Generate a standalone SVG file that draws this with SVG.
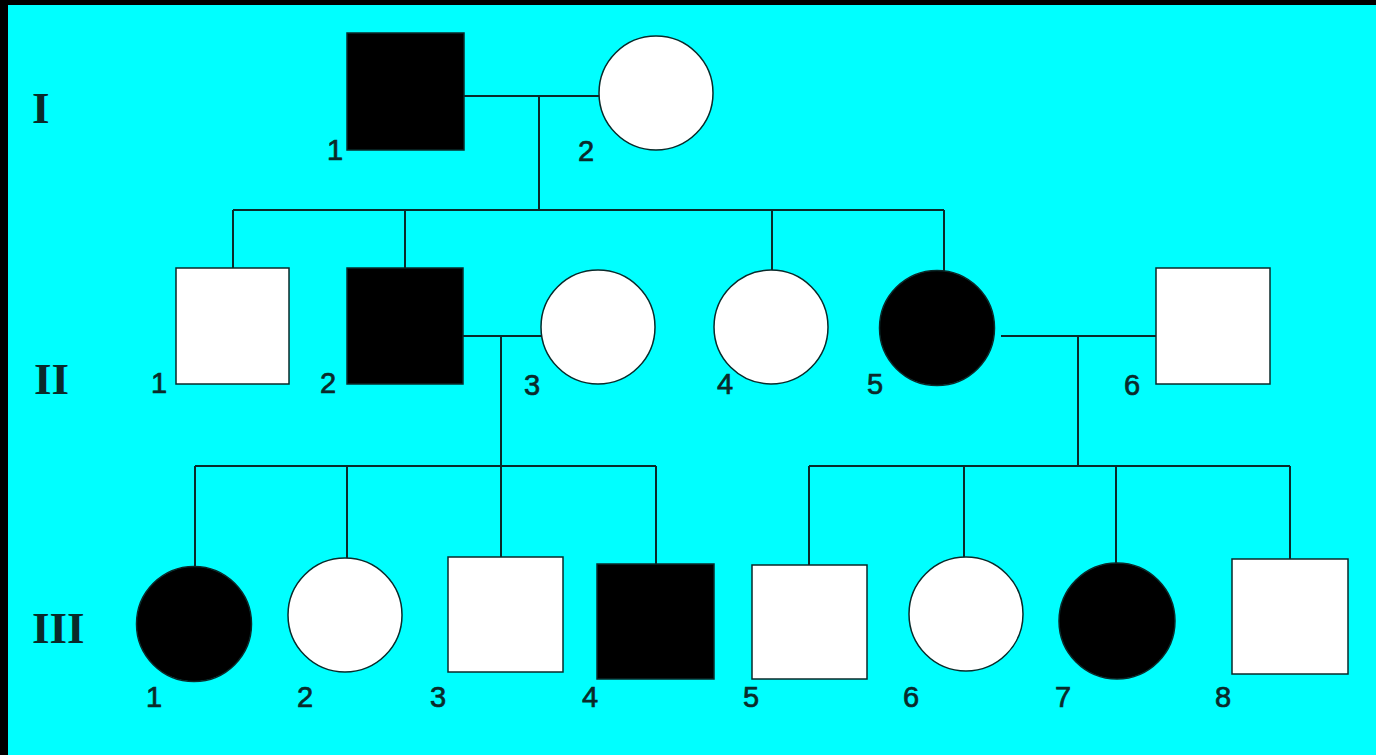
<svg xmlns="http://www.w3.org/2000/svg" width="1376" height="755" viewBox="0 0 1376 755">
<style>
.ln{stroke:#0a2a2a;stroke-width:2;fill:none}
.aff{fill:#000;stroke:#0a2a2a;stroke-width:1.5}
.un{fill:#fff;stroke:#0a2a2a;stroke-width:1.5}
.num{font-family:"Liberation Sans",Arial,sans-serif;font-size:29px;fill:#0a2a2a;stroke:#0a2a2a;stroke-width:0.7;text-anchor:middle}
.gen{font-family:"Liberation Serif","Times New Roman",serif;font-size:45px;font-weight:bold;fill:#0a2a2a}
</style>
<rect x="0" y="0" width="1376" height="755" fill="#000"/>
<rect x="8" y="5" width="1368" height="750" fill="#00ffff"/>
<g id="generation-labels">
<text class="gen" x="32" y="123">I</text>
<text class="gen" x="34" y="394">II</text>
<text class="gen" x="32" y="643">III</text>
</g>
<g id="connectors">
<path class="ln" d="M464 96H599M539 96V211M233 210H944M233 210V268M405 210V268M772 210V270M944 210V271"/>
<path class="ln" d="M463 336H541M501 336V562M195 466H656M195 466V566M347 466V558M656 466V564"/>
<path class="ln" d="M1001 336H1156M1078 336V466M809 466H1290M809 466V565M964 466V557M1116 466V563M1290 466V559"/>
</g>
<g id="I-1"><rect class="aff" x="347" y="33" width="117" height="117"/><text class="num" x="335" y="160">1</text></g>
<g id="I-2"><circle class="un" cx="656" cy="93" r="57"/><text class="num" x="586" y="161">2</text></g>
<g id="II-1"><rect class="un" x="176" y="268" width="113" height="116"/><text class="num" x="159" y="393">1</text></g>
<g id="II-2"><rect class="aff" x="347" y="268" width="116" height="116"/><text class="num" x="328" y="393">2</text></g>
<g id="II-3"><circle class="un" cx="598" cy="327" r="57"/><text class="num" x="532" y="395">3</text></g>
<g id="II-4"><circle class="un" cx="771" cy="327" r="57"/><text class="num" x="725" y="394">4</text></g>
<g id="II-5"><circle class="aff" cx="937" cy="328" r="57.5"/><text class="num" x="875" y="394">5</text></g>
<g id="II-6"><rect class="un" x="1156" y="268" width="114" height="116"/><text class="num" x="1132" y="395">6</text></g>
<g id="III-1"><circle class="aff" cx="194" cy="624" r="57.5"/><text class="num" x="154" y="707">1</text></g>
<g id="III-2"><circle class="un" cx="345" cy="615" r="57"/><text class="num" x="305" y="707">2</text></g>
<g id="III-3"><rect class="un" x="448" y="557" width="115" height="115"/><text class="num" x="438" y="707">3</text></g>
<g id="III-4"><rect class="aff" x="597" y="564" width="117" height="115"/><text class="num" x="590" y="707">4</text></g>
<g id="III-5"><rect class="un" x="752" y="565" width="115" height="114"/><text class="num" x="751" y="707">5</text></g>
<g id="III-6"><circle class="un" cx="966" cy="614" r="57"/><text class="num" x="911" y="707">6</text></g>
<g id="III-7"><circle class="aff" cx="1117" cy="621" r="58"/><text class="num" x="1063" y="707">7</text></g>
<g id="III-8"><rect class="un" x="1232" y="559" width="116" height="115"/><text class="num" x="1223" y="707">8</text></g>
</svg>
